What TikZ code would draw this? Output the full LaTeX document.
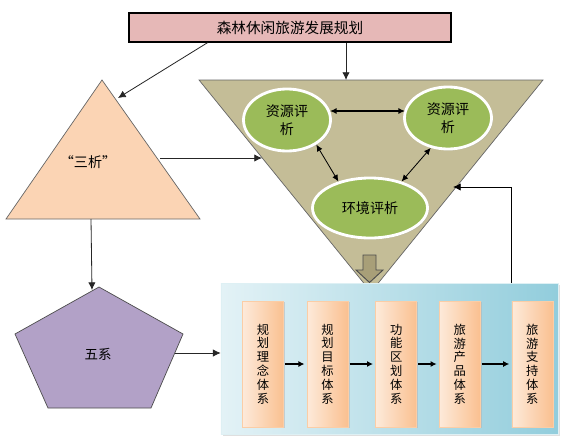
\documentclass[tikz,border=0pt]{standalone}
\usepackage{fontspec}
\setmainfont{Noto Sans CJK SC}
\usepackage{xcolor}
\usetikzlibrary{shapes.geometric, arrows.meta, positioning, calc, shadows}

\definecolor{titlefill}{HTML}{E6B8B7}
\definecolor{funnelfill}{HTML}{C4BD97}
\definecolor{sanxifill}{HTML}{FBD4B4}
\definecolor{wuxifill}{HTML}{B2A1C7}
\definecolor{evalfill}{HTML}{9BBB59}
\definecolor{panelL}{HTML}{E3F2F6}
\definecolor{panelR}{HTML}{92CDDC}
\definecolor{barL}{HTML}{FDEADA}
\definecolor{barR}{HTML}{FAC090}
\definecolor{downfill}{HTML}{A89F78}

\begin{document}
\begin{tikzpicture}[
    x=0.03cm, y=-0.03cm,
    titlebox/.style={draw, line width=1.1pt, fill=titlefill, minimum width=9.66cm, minimum height=0.87cm, font=\fontsize{12.5}{15}\selectfont},
    evalnode/.style={ellipse, draw=white, line width=2.4pt, fill=evalfill, align=center, inner sep=0pt,
        drop shadow={shadow xshift=1.2pt, shadow yshift=-1.2pt, fill=black!35},
        font=\fontsize{12}{15.3}\selectfont},
    panel/.style={rectangle, draw=white!70!panelR, line width=0.6pt, left color=panelL, right color=panelR,
        minimum width=10.11cm, minimum height=4.53cm,
        drop shadow={shadow xshift=1.5pt, shadow yshift=-1.5pt, fill=black!25}},
    bar/.style={rectangle, draw=barR!80!white, line width=0.5pt, left color=barL, right color=barR,
        minimum width=1.23cm, minimum height=3.78cm, align=center, inner sep=0pt,
        drop shadow={shadow xshift=1.2pt, shadow yshift=-1.2pt, fill=black!30},
        font=\fontsize{10.5}{11.8}\selectfont},
    arr/.style={-{Latex[length=2.3mm, width=2.2mm]}, line width=0.7pt, black!85},
    dblarr/.style={{Latex[length=2mm, width=1.8mm]}-{Latex[length=2mm, width=1.8mm]}, line width=0.7pt},
    bararr/.style={-{Latex[length=1.8mm, width=1.8mm]}, line width=1.6pt, shorten <=1pt, shorten >=2pt},
]
\useasboundingbox (0,0) rectangle (568,446);

% title
\node[titlebox] (title) at (290,27.5) {森林休闲旅游发展规划};

% funnel
\draw[fill=funnelfill, draw=black!60, line width=0.6pt]
    (199,80) -- (543,80) -- (371,292) -- cycle;
\coordinate (f-top) at (346,80);
\coordinate (f-left) at (262,158);
\coordinate (f-right) at (453,187);

% block arrow out of the funnel
\path[fill=downfill] (363,255) -- (376,255) -- (376,270) -- (383,270) -- (369.5,282.5)
    -- (356,270) -- (363,270) -- cycle;
\draw[black!70, line width=0.8pt, line join=miter]
    (363,255) -- (376,255) -- (376,270) -- (383,270) -- (369.5,282.5)
    -- (356,270) -- (363,270) -- cycle;

% "san xi" triangle
\draw[fill=sanxifill, draw=black!60, line width=0.6pt]
    (102,80) -- (200,219) -- (6,219) -- cycle;
\node[font=\fontsize{12}{14}\selectfont] (sanxi) at (88,162) {“三析”};
\coordinate (sx-top) at (118,98);
\coordinate (sx-right) at (160,158);
\coordinate (sx-bot) at (91,219);

% "wu xi" pentagon
\draw[fill=wuxifill, draw=black!70, line width=0.6pt]
    (99,287) -- (183,334) -- (151,408) -- (48,408) -- (15,334) -- cycle;
\node[font=\fontsize{11.5}{14}\selectfont] (wuxi) at (98,354) {五系};
\coordinate (wx-top) at (92,290);
\coordinate (wx-right) at (175,353);

% evaluations
\node[evalnode, minimum width=2.61cm, minimum height=1.86cm] (resL) at (287,120) {资源评\\析};
\node[evalnode, minimum width=2.61cm, minimum height=1.86cm] (resR) at (448,118) {资源评\\析};
\node[evalnode, minimum width=3.45cm, minimum height=1.8cm] (env) at (370,208) {环境评析};

\draw[dblarr, line width=1.5pt] ($(resL.east)+(-2,-9)$) -- ($(resR.west)+(2,-7)$);
\draw[dblarr] (resL.-40) -- (env.140);
\draw[dblarr] (resR.-120) -- (env.40);

% planning systems
\node[panel] (panel) at (389.5,358.5) {};
\node[bar] (bar1) at (263,364) {规\\划\\理\\念\\体\\系};
\node[bar, right=0.69cm of bar1] (bar2) {规\\划\\目\\标\\体\\系};
\node[bar, right=0.81cm of bar2] (bar3) {功\\能\\区\\划\\体\\系};
\node[bar, right=0.66cm of bar3] (bar4) {旅\\游\\产\\品\\体\\系};
\node[bar, right=0.93cm of bar4] (bar5) {旅\\游\\支\\持\\体\\系};

\foreach \a/\b in {bar1/bar2, bar2/bar3, bar3/bar4, bar4/bar5}
    \draw[bararr] (\a.east) -- (\b.west);

% connectors
\draw[arr] ($(title.south west)!0.245!(title.south east)$) -- (sx-top);
\draw[arr] (title.south -| f-top) -- (f-top);
\draw[arr] (sx-right) -- (f-left);
\draw[arr] (sx-bot) -- (wx-top);
\draw[arr] (wx-right) -- (wx-right -| panel.west);
\draw[arr, black] (bar5.west |- panel.north) |- (f-right);
\end{tikzpicture}
\end{document}
